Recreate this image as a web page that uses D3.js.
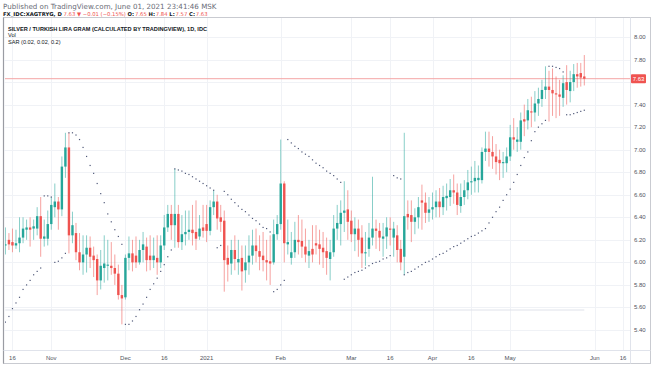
<!DOCTYPE html>
<html><head><meta charset="utf-8">
<script src="https://cdn.jsdelivr.net/npm/d3@7"></script>
<style>
html,body{margin:0;padding:0;background:#fff;}
svg{display:block;font-family:"Liberation Sans",Arial,sans-serif;}
</style>
</head><body>
<svg id="chart" width="654" height="366"></svg>
<script>
// ---------- data ----------
const firstBarDate = "2020-10-14";   // bars are weekdays from here
const lastBarDate  = "2021-06-01";
const openP  = [6.15,6.20,6.18,6.15,6.17,6.22,6.29,6.31,6.30,6.30,6.41,6.21,6.21,6.34,6.49,6.54,6.47,6.85,7.02,6.24,6.26,6.09,6.00,6.07,6.13,6.06,6.03,5.84,5.95,5.97,5.97,5.95,5.90,5.71,5.69,6.04,6.08,6.06,6.00,6.11,6.14,6.06,6.02,6.04,6.00,6.15,6.31,6.43,6.33,6.43,6.18,6.25,6.27,6.29,6.27,6.23,6.31,6.34,6.28,6.49,6.54,6.40,6.37,6.04,5.99,6.11,6.00,6.04,5.93,6.00,6.06,6.15,6.10,6.06,6.02,6.01,6.00,6.25,6.34,6.70,6.16,6.04,6.09,6.20,6.19,6.14,6.06,6.12,6.17,6.16,6.13,6.10,6.03,6.09,6.30,6.34,6.44,6.47,6.37,6.25,6.30,6.22,6.08,6.12,6.22,6.30,6.28,6.21,6.23,6.30,6.22,6.24,6.12,6.05,6.43,6.42,6.36,6.40,6.55,6.53,6.44,6.47,6.49,6.54,6.49,6.57,6.58,6.64,6.62,6.50,6.58,6.64,6.71,6.72,6.73,6.73,6.98,7.01,6.98,6.94,6.91,6.88,6.88,6.94,7.11,7.07,7.07,7.27,7.26,7.34,7.33,7.41,7.45,7.53,7.56,7.53,7.50,7.49,7.46,7.60,7.52,7.60,7.67,7.68,7.65];
const highP  = [6.31,6.26,6.30,6.29,6.40,6.40,6.38,6.40,6.38,6.49,6.58,6.38,6.46,6.58,6.70,6.58,6.94,7.15,7.15,6.45,6.35,6.26,6.24,6.24,6.23,6.14,6.07,6.11,6.24,6.20,6.18,6.07,5.98,5.80,6.07,6.23,6.20,6.23,6.20,6.27,6.22,6.24,6.22,6.24,6.24,6.42,6.51,6.51,6.83,6.51,6.42,6.46,6.46,6.51,6.55,6.42,6.51,6.51,6.55,6.64,6.60,6.51,6.46,6.15,6.20,6.24,6.20,6.15,6.15,6.24,6.29,6.30,6.24,6.27,6.20,6.24,6.38,6.42,7.09,6.72,6.38,6.27,6.36,6.42,6.38,6.30,6.20,6.33,6.33,6.29,6.27,6.22,6.20,6.42,6.51,6.55,6.72,6.64,6.46,6.40,6.38,6.33,6.27,6.35,6.76,6.38,6.35,6.35,6.40,6.40,6.36,6.33,6.20,7.15,6.55,6.55,6.48,6.58,6.69,6.62,6.58,6.62,6.64,6.66,6.68,6.70,6.74,6.78,6.70,6.70,6.73,6.82,6.85,6.90,6.86,7.02,7.16,7.16,7.12,7.05,7.00,6.98,7.02,7.22,7.28,7.20,7.33,7.40,7.45,7.47,7.52,7.55,7.62,7.74,7.70,7.72,7.65,7.62,7.66,7.75,7.70,7.76,7.77,7.77,7.84];
const lowP   = [6.07,6.11,6.09,6.12,6.09,6.17,6.20,6.14,6.20,6.24,6.05,6.14,6.15,6.29,6.40,6.29,6.41,6.75,6.08,6.17,6.02,5.93,5.89,5.91,5.95,5.87,5.71,5.76,5.82,5.84,5.89,5.80,5.67,5.45,5.67,5.93,5.92,5.95,5.98,6.00,5.92,5.93,5.95,5.89,5.95,6.11,6.27,6.20,6.13,6.13,6.11,6.15,6.20,6.15,6.11,6.20,6.22,6.18,6.24,6.42,6.29,6.27,5.74,5.83,5.89,5.93,5.89,5.75,5.82,5.89,5.98,6.00,5.93,5.92,5.84,5.80,5.98,6.20,6.29,6.00,6.07,5.98,6.04,6.07,6.04,6.00,5.95,6.00,6.07,5.98,5.95,5.89,5.84,6.05,6.20,6.15,6.27,6.20,6.18,6.10,6.05,5.95,5.97,6.05,6.15,6.12,6.10,6.05,6.12,6.15,6.05,6.00,5.93,5.89,6.29,6.18,6.25,6.30,6.29,6.35,6.36,6.38,6.40,6.40,6.42,6.46,6.50,6.52,6.42,6.44,6.51,6.56,6.60,6.62,6.62,6.70,6.90,6.85,6.83,6.78,6.73,6.75,6.80,6.90,7.00,6.98,7.00,7.12,7.18,7.20,7.25,7.30,7.38,7.45,7.25,7.30,7.28,7.30,7.38,7.40,7.42,7.52,7.55,7.56,7.57];
const closeP = [6.16,6.16,6.15,6.17,6.22,6.30,6.31,6.29,6.32,6.41,6.21,6.23,6.34,6.51,6.54,6.47,6.85,7.02,6.24,6.33,6.09,6.00,6.07,6.13,6.05,6.02,5.84,5.97,5.99,5.98,5.95,5.90,5.71,5.68,6.04,6.08,6.00,6.00,6.11,6.16,6.02,6.02,6.06,6.00,6.15,6.31,6.43,6.33,6.43,6.18,6.25,6.27,6.29,6.26,6.21,6.30,6.28,6.28,6.49,6.54,6.39,6.36,6.02,5.98,6.11,6.03,6.03,5.92,6.00,6.06,6.15,6.10,6.05,6.02,6.00,5.99,6.25,6.34,6.70,6.17,6.18,6.09,6.20,6.18,6.14,6.07,6.10,6.07,6.15,6.12,6.09,6.04,6.09,6.30,6.35,6.44,6.46,6.36,6.25,6.30,6.20,6.08,6.09,6.22,6.30,6.28,6.22,6.23,6.31,6.29,6.30,6.11,6.00,6.41,6.40,6.36,6.40,6.49,6.53,6.44,6.47,6.49,6.54,6.49,6.58,6.59,6.64,6.62,6.51,6.58,6.64,6.71,6.72,6.75,6.75,6.98,7.01,6.98,6.94,6.89,6.88,6.89,6.94,7.11,7.09,7.09,7.26,7.25,7.35,7.33,7.41,7.45,7.53,7.56,7.53,7.50,7.49,7.47,7.59,7.53,7.60,7.67,7.65,7.64,7.63];
// Parabolic SAR (0.02, 0.02, 0.2) dots
const sarP   = [5.47,5.52,5.59,5.64,5.69,5.76,5.80,5.84,5.89,5.92,5.95,6.59,6.59,6.58,6.00,6.01,6.04,6.08,7.15,7.15,7.13,7.09,7.02,6.94,6.86,6.79,6.70,6.61,6.53,6.43,6.36,6.29,6.23,6.16,5.45,5.45,5.48,5.52,5.58,5.63,5.69,5.76,5.81,5.86,5.92,5.98,6.05,6.11,6.83,6.82,6.81,6.79,6.78,6.76,6.74,6.72,6.70,6.68,6.66,6.64,6.13,6.15,6.63,6.60,6.56,6.53,6.50,6.47,6.45,6.42,6.39,6.37,6.34,6.31,6.30,6.27,5.74,5.76,5.80,5.84,7.09,7.06,7.03,7.01,6.98,6.96,6.94,6.91,6.88,6.86,6.84,6.81,6.79,6.77,6.74,6.71,5.85,5.87,5.89,5.91,5.92,5.93,5.95,5.97,5.99,6.00,6.01,6.03,6.04,6.06,6.77,6.75,6.74,5.89,5.91,5.92,5.94,5.96,5.98,6.00,6.01,6.03,6.05,6.07,6.08,6.10,6.12,6.14,6.15,6.17,6.19,6.21,6.23,6.24,6.26,6.28,6.30,6.35,6.40,6.45,6.49,6.55,6.60,6.65,6.71,6.78,6.86,6.93,6.98,7.08,7.16,7.20,7.23,7.26,7.74,7.74,7.73,7.72,7.69,7.31,7.31,7.32,7.33,7.34,7.35];
const volumeBase = 0;   // the instrument reports no volume
const priceTicks = [5.4,5.6,5.8,6.0,6.2,6.4,6.6,6.8,7.0,7.2,7.4,7.6,7.8,8.0];
const timeTickLabels = ["16","Nov","Dec","16","2021","Feb","Mar","16","Apr","16","May","Jun","16"];
const timeTickDates  = ["2020-10-16","2020-11-02","2020-12-01","2020-12-16","2021-01-01","2021-02-01","2021-03-01","2021-03-16","2021-04-01","2021-04-16","2021-05-03","2021-06-04","2021-06-16"];
const lastPrice = 7.63;
const headerLine1 = "Published on TradingView.com, June 01, 2021 23:41:46 MSK";
const headerParts = [
  ["FX_IDC:XAGTRYG, D","#131722","bold"],["7.63","#ef5350","normal"],["▼","#ef5350","normal"],["−0.01 (−0.15%)","#ef5350","normal"],
  ["O:","#131722","bold",1],["7.65","#ef5350","normal",0],["H:","#131722","bold",1],["7.84","#ef5350","normal",0],
  ["L:","#131722","bold",1],["7.57","#ef5350","normal",0],["C:","#131722","bold",1],["7.63","#ef5350","normal",0]];
const legendLines = ["SILVER / TURKISH LIRA GRAM (CALCULATED BY TRADINGVIEW), 1D, IDC","Vol","SAR (0.02, 0.02, 0.2)"];

// ---------- helpers ----------
function weekdayIndex(dateStr){
  const a = new Date(firstBarDate+"T00:00:00Z"), b = new Date(dateStr+"T00:00:00Z");
  let n = 0;
  for (let d = new Date(a); d < b; d.setUTCDate(d.getUTCDate()+1)) {
    const w = d.getUTCDay(); if (w!==0 && w!==6) n++;
  }
  return n;
}
const nBars = weekdayIndex(lastBarDate)+1;

// ---------- layout ----------
const svg = d3.select("#chart");
const W = 654, H = 366;
const frame = {l:3.5, t:17.5, r:650.5, b:363.5};
const pane = {l:4, r:630, t:18, b:350};

const x = d3.scaleLinear().domain([0, nBars-1]).range([5.4, 584.3]);
const y = d3.scaleLinear().domain([5.4, 8.0]).range([330, 37]);
const yVol = d3.scaleLinear().domain([0, 1]).range([310, 280]);

const GREEN = "#26a69a", RED = "#ef5350";

// background
svg.append("rect").attr("width",W).attr("height",H).attr("fill","#fff");

// header line 1
const h1 = svg.append("text").attr("x",3).attr("y",9).attr("font-family","DejaVu Sans").attr("font-size",6.5).attr("fill","#6a6d78").text(headerLine1);
{ const w = h1.node().getComputedTextLength(); h1.attr("font-size", (6.5*214/w).toFixed(2)); }

// header line 2: separate pieces laid out one after another, then sized to the target width
const h2g = svg.append("g");
function layoutLine2(fs){
  h2g.selectAll("*").remove();
  let cx = 3;
  headerParts.forEach((p,k)=>{
    const gap = k===0 ? 0 : (p[3]===0 ? 0.15*fs : 0.32*fs);
    cx += gap;
    const t = h2g.append("text").attr("x",cx).attr("y",16).attr("font-family","DejaVu Sans").attr("font-size",fs)
      .attr("font-weight",p[2]).attr("fill",p[1]).text(p[0]);
    cx += t.node().getComputedTextLength();
  });
  return cx - 3;
}
{ const w0 = layoutLine2(6); layoutLine2(6*205/w0); }

// frame
svg.append("rect").attr("x",frame.l).attr("y",frame.t).attr("width",frame.r-frame.l).attr("height",frame.b-frame.t)
  .attr("fill","none").attr("stroke","#c9cbd1").attr("stroke-width",1);
svg.append("line").attr("x1",frame.l).attr("x2",frame.l).attr("y1",frame.t).attr("y2",frame.b).attr("stroke","#9a9ca3").attr("stroke-width",1.2);

// grid
const g = svg.append("g");
g.selectAll("line.hg").data(priceTicks).enter().append("line")
  .attr("x1",pane.l).attr("x2",pane.r).attr("y1",d=>Math.round(y(d))+0.5).attr("y2",d=>Math.round(y(d))+0.5)
  .attr("stroke","#f0f2f6").attr("stroke-width",1);
const tickIdx = timeTickDates.map(weekdayIndex);
g.selectAll("line.vg").data(tickIdx).enter().append("line")
  .attr("x1",d=>Math.round(x(d))+0.5).attr("x2",d=>Math.round(x(d))+0.5).attr("y1",pane.t).attr("y2",pane.b)
  .attr("stroke","#f0f2f6").attr("stroke-width",1);

// axes separators
svg.append("line").attr("x1",pane.r+0.5).attr("x2",pane.r+0.5).attr("y1",frame.t).attr("y2",frame.b).attr("stroke","#e0e3eb");
svg.append("line").attr("x1",frame.l).attr("x2",frame.r).attr("y1",pane.b+0.5).attr("y2",pane.b+0.5).attr("stroke","#e0e3eb");

// clip
svg.append("clipPath").attr("id","clip").append("rect").attr("x",pane.l+1).attr("y",pane.t).attr("width",pane.r-pane.l-1).attr("height",pane.b-pane.t);
const plot = svg.append("g").attr("clip-path","url(#clip)");

// volume baseline (no volume reported)
plot.append("line").attr("x1",x(0)).attr("x2",x(nBars-1)).attr("y1",yVol(volumeBase)).attr("y2",yVol(volumeBase))
  .attr("stroke","#dfe2ea").attr("stroke-width",1);

// last price line
plot.append("line").attr("x1",pane.l).attr("x2",pane.r).attr("y1",y(lastPrice)).attr("y2",y(lastPrice))
  .attr("stroke","#f4a6a5").attr("stroke-width",1);

// candles
const bars = d3.range(nBars).map(i=>({i,o:openP[i],h:highP[i],l:lowP[i],c:closeP[i],s:sarP[i]}));
const cg = plot.append("g");
cg.selectAll("line.w").data(bars).enter().append("line")
  .attr("x1",d=>x(d.i)).attr("x2",d=>x(d.i)).attr("y1",d=>y(d.h)).attr("y2",d=>y(d.l))
  .attr("stroke",d=>d.c>=d.o?GREEN:RED).attr("stroke-opacity",0.55).attr("stroke-width",1);
const bw = 2.4;
cg.selectAll("rect.b").data(bars).enter().append("rect")
  .attr("x",d=>x(d.i)-bw/2).attr("width",bw)
  .attr("y",d=>y(Math.max(d.o,d.c))).attr("height",d=>Math.max(1,Math.abs(y(d.o)-y(d.c))))
  .attr("fill",d=>d.c>=d.o?GREEN:RED);

// SAR dots
plot.append("g").selectAll("rect.s").data(bars.filter(d=>d.s!=null)).enter().append("rect")
  .attr("x",d=>x(d.i)-0.6).attr("y",d=>y(d.s)-0.6).attr("width",1.2).attr("height",1.2).attr("fill","#4f5878");

// legend
legendLines.forEach((t,k)=>{
  svg.append("text").attr("x",8).attr("y",30.5+k*6.5).attr("font-size",5.6)
    .attr("font-weight",k===0?"bold":"normal").attr("fill","#131722").text(t);
});

// price axis labels (the one hidden behind the last-price label is skipped)
const ly = y(lastPrice);
svg.append("g").selectAll("text").data(priceTicks.filter(d=>Math.abs(y(d)-ly)>=8)).enter().append("text")
  .attr("x",634).attr("y",d=>y(d)+2).attr("font-size",6).attr("fill","#50535e").text(d=>d3.format(".2f")(d));
// last price label
svg.append("rect").attr("x",pane.r+1).attr("y",ly-4.5).attr("width",15).attr("height",9).attr("fill",RED).attr("rx",1);
svg.append("text").attr("x",pane.r+8.5).attr("y",ly+2).attr("text-anchor","middle").attr("font-size",6).attr("fill","#fff").text(d3.format(".2f")(lastPrice));

// time axis labels
svg.append("g").selectAll("text").data(timeTickLabels).enter().append("text")
  .attr("x",(d,k)=>x(tickIdx[k])).attr("y",360).attr("text-anchor","middle").attr("font-size",6).attr("fill","#50535e").text(d=>d);
</script>
</body></html>
